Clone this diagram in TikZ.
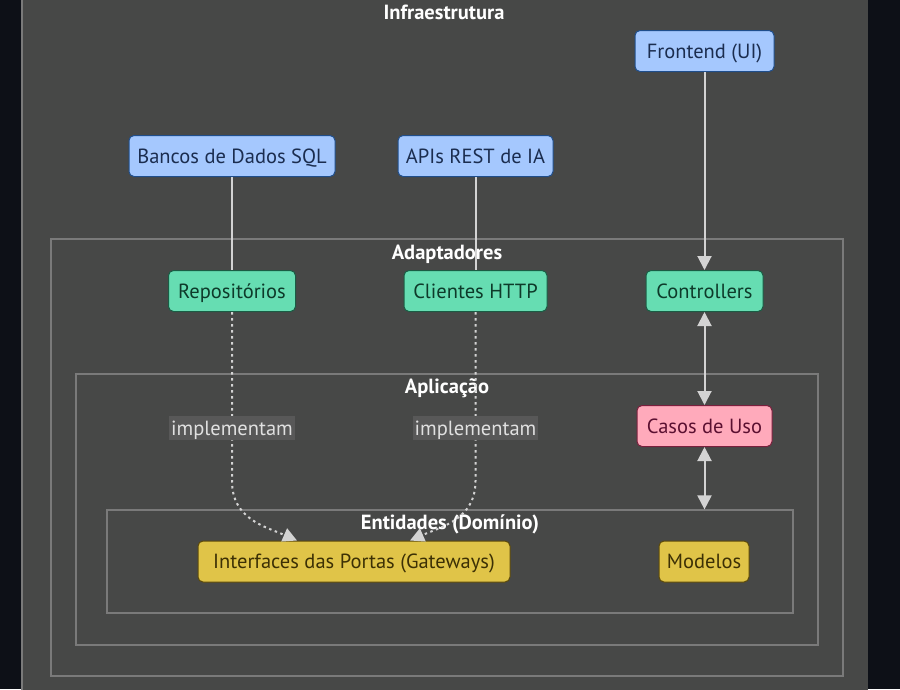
\documentclass[tikz,border=0pt]{standalone}
\usepackage{fontspec}
\setmainfont{PT Sans}
\usetikzlibrary{arrows.meta}
\definecolor{bgdark}{HTML}{0D1017}
\definecolor{panel}{HTML}{474847}
\definecolor{clline}{HTML}{7A7A7A}
\definecolor{edgecol}{HTML}{D3D3D3}
\definecolor{lblfill}{HTML}{585858}
\definecolor{lbltext}{HTML}{E0E0E0}
\definecolor{bluefill}{HTML}{A5C8FE}
\definecolor{bluedraw}{HTML}{1F4E8C}
\definecolor{bluetext}{HTML}{1B2D4F}
\definecolor{greenfill}{HTML}{66DDB2}
\definecolor{greendraw}{HTML}{1A5C44}
\definecolor{greentext}{HTML}{0E3A2A}
\definecolor{pinkfill}{HTML}{FFAABB}
\definecolor{pinkdraw}{HTML}{7A1F3D}
\definecolor{pinktext}{HTML}{5B1031}
\definecolor{yelfill}{HTML}{E0C448}
\definecolor{yeldraw}{HTML}{5C4A0A}
\definecolor{yeltext}{HTML}{3C3005}
\tikzset{
  cluster/.style={draw=clline, line width=1.2pt, rectangle, inner sep=0pt},
  cltitle/.style={text=white, font=\fontsize{20.5}{24}\selectfont\bfseries, inner sep=0pt, text height=14.4pt, text depth=0pt},
  box/.style={rectangle, rounded corners=5pt, line width=1pt, minimum height=41pt, inner sep=0pt, text height=14.4pt, text depth=0pt, font=\fontsize{20.5}{24}\selectfont},
  bluebox/.style={box, fill=bluefill, draw=bluedraw, text=bluetext},
  greenbox/.style={box, fill=greenfill, draw=greendraw, text=greentext},
  pinkbox/.style={box, fill=pinkfill, draw=pinkdraw, text=pinktext},
  yelbox/.style={box, fill=yelfill, draw=yeldraw, text=yeltext},
  edge/.style={draw=edgecol, line width=2pt},
  tip/.style={-{Triangle[width=14pt,length=14pt]}},
  dtip/.style={{Triangle[width=14pt,length=14pt]}-{Triangle[width=14pt,length=14pt]}},
  dotedge/.style={edge, dash pattern=on 2.5pt off 3.5pt, -{Triangle[width=14pt,length=14pt]}},
  lbl/.style={fill=lblfill, text=lbltext, inner xsep=2pt, inner ysep=5pt, text height=14.4pt, text depth=0pt, font=\fontsize{20.5}{24}\selectfont},
}
\begin{document}
\begin{tikzpicture}[x=1pt,y=-1pt]
\useasboundingbox (0,0) rectangle (900,689);
\fill[bgdark] (0,0) rectangle (900,689);
\fill[panel] (21,-2) rectangle (868,691);
\draw[clline, line width=1.5pt] (21.75,-2) -- (21.75,691);

% clusters
\node[cluster, minimum width=792pt, minimum height=437pt] (adp) at (447,457.5) {};
\node[cluster, minimum width=742pt, minimum height=271pt] (apl) at (447,509.5) {};
\node[cluster, minimum width=686pt, minimum height=103pt] (ent) at (450,561.5) {};

\node[cltitle] (tinfra) at (444,12) {Infraestrutura};
\node[cltitle] (tadp) at (447,252) {Adaptadores};
\node[cltitle] (tapl) at (447,386) {Aplicação};
\node[cltitle] (tent) at (450,522) {Entidades (Domínio)};

% nodes
\node[bluebox, minimum width=139pt] (front) at (704.5,51) {Frontend (UI)};
\node[bluebox, minimum width=206pt] (bancos) at (232,156) {Bancos de Dados SQL};
\node[bluebox, minimum width=155pt] (apis) at (475.5,156) {APIs REST de IA};
\node[greenbox, minimum width=127pt] (repo) at (232,291) {Repositórios};
\node[greenbox, minimum width=143pt] (cli) at (475.5,291) {Clientes HTTP};
\node[greenbox, minimum width=117pt] (ctrl) at (704.5,291) {Controllers};
\node[pinkbox, minimum width=135pt] (casos) at (704.5,426) {Casos de Uso};
\node[yelbox, minimum width=312pt] (ifc) at (354,561.5) {Interfaces das Portas (Gateways)};
\node[yelbox, minimum width=90pt] (mod) at (704,561.5) {Modelos};

% edges
\draw[edge] (bancos) -- (repo);
\draw[edge] (apis) -- (cli);
\draw[edge, tip] (front) -- (ctrl);
\draw[edge, dtip] (ctrl) -- (casos);
\coordinate (entTop) at (casos.south |- ent.north);
\draw[edge, dtip] (casos.south) -- (entTop);
\draw[dotedge] (repo.south) -- node[lbl, pos=0.686] {implementam} ++(0,169)
   .. controls +(0,38) and +(-32,-14) .. ([xshift=-57pt]ifc.north);
\draw[dotedge] (cli.south) -- node[lbl, pos=0.686] {implementam} ++(0,169)
   .. controls +(0,38) and +(32,-14) .. ([xshift=56pt]ifc.north);
\end{tikzpicture}
\end{document}
